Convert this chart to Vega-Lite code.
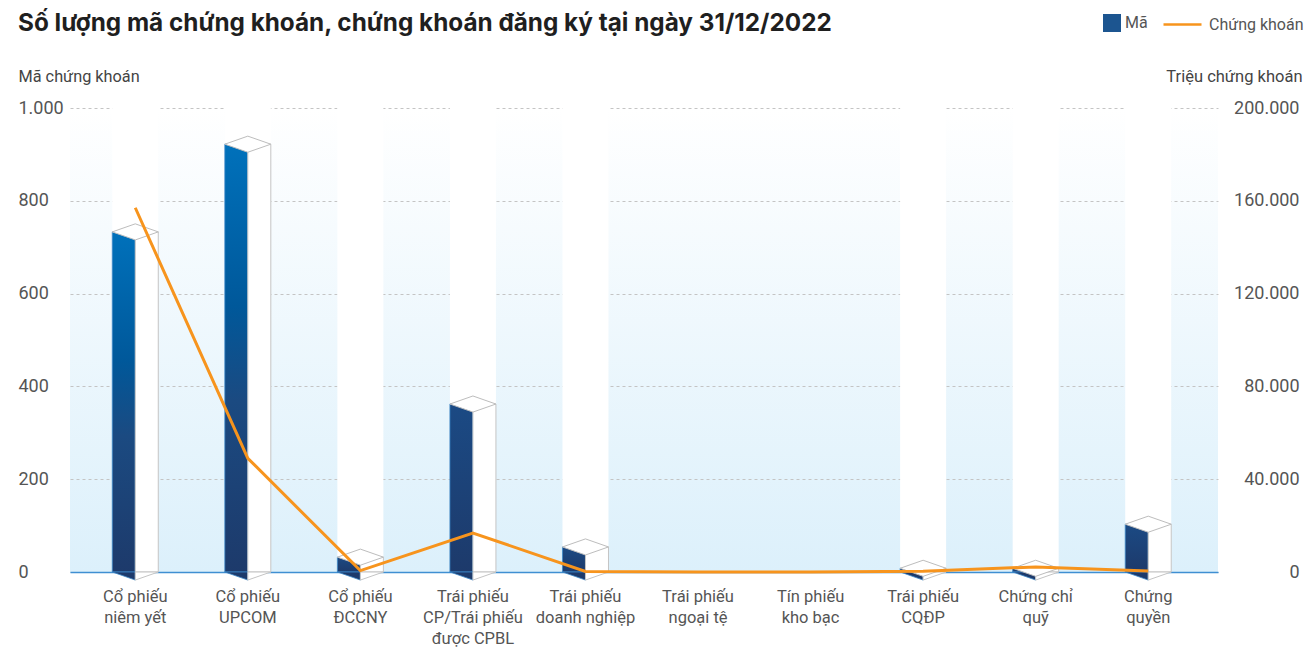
{
  "$schema": "https://vega.github.io/schema/vega-lite/v6.json",
  "autosize": "none",
  "width": 1148,
  "height": 464,
  "padding": {"left": 70, "top": 108, "right": 89, "bottom": 78},
  "background": "#ffffff",
  "title": {
    "text": "Số lượng mã chứng khoán, chứng khoán đăng ký tại ngày 31/12/2022",
    "anchor": "start",
    "frame": "group",
    "dx": -52,
    "dy": 55,
    "baseline": "alphabetic",
    "fontSize": 24.3,
    "fontWeight": "bold",
    "color": "#1f1f1f",
    "font": "Inter"
  },
  "config": {
    "font": "Roboto",
    "locale": {"number": {"decimal": ",", "thousands": ".", "grouping": [3], "currency": ["", ""]}},
    "view": {
      "stroke": null,
      "fill": {"gradient": "linear", "x1": 0, "y1": 0, "x2": 0, "y2": 1,
        "stops": [{"offset": 0, "color": "#ffffff"}, {"offset": 1, "color": "#dcf0fb"}]}
    },
    "legend": {"padding": 0}
  },
  "data": {
    "values": [
      {"cat": "Cổ phiếu\nniêm yết", "ma": 733, "ck": 157000},
      {"cat": "Cổ phiếu\nUPCOM", "ma": 922, "ck": 49000},
      {"cat": "Cổ phiếu\nĐCCNY", "ma": 32, "ck": 600},
      {"cat": "Trái phiếu\nCP/Trái phiếu\nđược CPBL", "ma": 362, "ck": 16800},
      {"cat": "Trái phiếu\ndoanh nghiệp", "ma": 54, "ck": 200},
      {"cat": "Trái phiếu\nngoại tệ", "ma": null, "ck": 0},
      {"cat": "Tín phiếu\nkho bạc", "ma": null, "ck": 0},
      {"cat": "Trái phiếu\nCQĐP", "ma": 8, "ck": 300},
      {"cat": "Chứng chỉ\nquỹ", "ma": 8, "ck": 2200},
      {"cat": "Chứng\nquyền", "ma": 103, "ck": 400}
    ]
  },
  "encoding": {
    "x": {
      "field": "cat", "type": "nominal",
      "scale": {
        "domain": ["Cổ phiếu\nniêm yết", "Cổ phiếu\nUPCOM", "Cổ phiếu\nĐCCNY", "Trái phiếu\nCP/Trái phiếu\nđược CPBL",
                   "Trái phiếu\ndoanh nghiệp", "Trái phiếu\nngoại tệ", "Tín phiếu\nkho bạc", "Trái phiếu\nCQĐP",
                   "Chứng chỉ\nquỹ", "Chứng\nquyền"],
        "paddingInner": 0, "paddingOuter": 0.1, "align": 0.4},
      "axis": {
        "title": null, "labelAngle": 0, "ticks": false,
        "labelExpr": "split(datum.label, '\\n')",
        "labelFontSize": 16.5, "labelColor": "#555555", "labelLineHeight": 21,
        "labelPadding": 16, "labelBaseline": "top",
        "domainColor": "#3f8fd2", "domainWidth": 1.5, "grid": false
      }
    }
  },
  "layer": [
    {
      "transform": [{"filter": "datum.ma != null"}],
      "layer": [
        {
          "mark": {"type": "bar", "color": "#ffffff", "width": 46},
          "encoding": {
            "y": {"datum": 1000, "type": "quantitative", "scale": {"domain": [0, 1000], "nice": false},
              "title": "Mã chứng khoán",
              "axis": {
                "orient": "left", "values": [0, 200, 400, 600, 800, 1000], "format": ",.0f",
                "ticks": false, "domain": false,
                "labelAlign": "left", "labelPadding": 52, "labelFontSize": 18, "labelColor": "#555555",
                "labelBaseline": "middle",
                "grid": true, "gridColor": "#c4c4c4", "gridDash": [3, 3], "gridWidth": 1,
                "titleAngle": 0, "titleAlign": "left", "titleX": -52, "titleY": -27,
                "titleBaseline": "alphabetic", "titleFontSize": 16.3, "titleFontWeight": "normal",
                "titleColor": "#444444"
              }},
            "y2": {"datum": 0}
          }
        },
        {
          "transform": [{"filter": "datum.ma > 500"}],
          "mark": {"type": "bar", "width": 23, "xOffset": -11.5, "stroke": "#3a86c8", "strokeWidth": 0.8,
            "fill": {"gradient": "linear", "x1": 0, "y1": 0, "x2": 0, "y2": 1,
              "stops": [{"offset": 0, "color": "#0071bb"}, {"offset": 0.38, "color": "#00589a"},
                        {"offset": 0.6, "color": "#1b4a81"}, {"offset": 1, "color": "#1d3a6b"}]}},
          "encoding": {
            "y": {"field": "ma", "type": "quantitative", "title": "Mã chứng khoán"},
            "y2": {"datum": 0}
          }
        },
        {
          "transform": [{"filter": "datum.ma <= 500"}],
          "mark": {"type": "bar", "width": 23, "xOffset": -11.5, "stroke": "#3a86c8", "strokeWidth": 0.8,
            "fill": {"gradient": "linear", "x1": 0, "y1": 0, "x2": 0, "y2": 1,
              "stops": [{"offset": 0, "color": "#1b4a84"}, {"offset": 1, "color": "#1d3a6b"}]}},
          "encoding": {
            "y": {"field": "ma", "type": "quantitative", "title": "Mã chứng khoán"},
            "y2": {"datum": 0}
          }
        },
        {
          "mark": {"type": "bar", "width": 23, "xOffset": 11.5, "fill": "#ffffff", "stroke": "#c4c4c4", "strokeWidth": 1},
          "encoding": {
            "y": {"field": "ma", "type": "quantitative", "title": "Mã chứng khoán"},
            "y2": {"datum": 0}
          }
        },
        {
          "mark": {"type": "point", "shape": "M-1,0L0,0.35L0,0Z", "size": 2116, "filled": true,
            "fill": "#1d3a6b", "stroke": "#3a86c8", "strokeWidth": 0.8, "opacity": 1},
          "encoding": {"y": {"datum": 0, "type": "quantitative", "title": "Mã chứng khoán"}}
        },
        {
          "mark": {"type": "point", "shape": "M0,0L0,0.35L1,0Z", "size": 2116, "filled": true,
            "fill": "#ffffff", "stroke": "#c4c4c4", "strokeWidth": 1, "opacity": 1},
          "encoding": {"y": {"datum": 0, "type": "quantitative", "title": "Mã chứng khoán"}}
        },
        {
          "mark": {"type": "point", "shape": "M-1,0L0,-0.35L1,0L0,0.35Z", "size": 2116, "filled": true,
            "fill": "#ffffff", "stroke": "#bdbdbd", "strokeWidth": 1, "opacity": 1},
          "encoding": {"y": {"field": "ma", "type": "quantitative", "title": "Mã chứng khoán"}}
        },
        {
          "mark": {"type": "bar", "opacity": 0, "width": 1},
          "encoding": {
            "y": {"field": "ma", "type": "quantitative", "title": "Mã chứng khoán"},
            "fill": {"datum": "Mã", "type": "nominal",
              "scale": {"range": ["#1c5590"]},
              "legend": {
                "title": null, "orient": "none", "legendX": 1033, "legendY": -94,
                "direction": "horizontal", "symbolType": "square", "symbolSize": 324, "symbolOpacity": 1,
                "symbolStrokeWidth": 0,
                "labelFontSize": 16, "labelColor": "#555555", "labelOffset": 4
              }}
          }
        }
      ]
    },
    {
      "mark": {"type": "line", "strokeWidth": 3},
      "encoding": {
        "y": {"field": "ck", "type": "quantitative", "scale": {"domain": [0, 200000], "nice": false},
          "title": "Triệu chứng khoán",
          "axis": {
            "orient": "right", "values": [0, 40000, 80000, 120000, 160000, 200000], "format": ",.0f",
            "ticks": false, "domain": false, "grid": false,
            "labelAlign": "right", "labelPadding": 81, "labelFontSize": 18, "labelColor": "#555555",
            "labelBaseline": "middle",
            "titleAngle": 0, "titleAlign": "right", "titleX": 84, "titleY": -27,
            "titleBaseline": "alphabetic", "titleFontSize": 16.5, "titleFontWeight": "normal",
            "titleColor": "#444444"
          }},
        "stroke": {"datum": "Chứng khoán", "type": "nominal",
          "scale": {"range": ["#f7941d"]},
          "legend": {
            "title": null, "orient": "none", "legendX": 1092, "legendY": -104,
            "direction": "horizontal", "symbolType": "stroke", "symbolSize": 1444, "symbolStrokeWidth": 2.5,
            "labelFontSize": 16, "labelColor": "#555555", "labelOffset": 6
          }}
      }
    }
  ],
  "resolve": {"scale": {"y": "independent"}, "axis": {"y": "independent"}}
}
